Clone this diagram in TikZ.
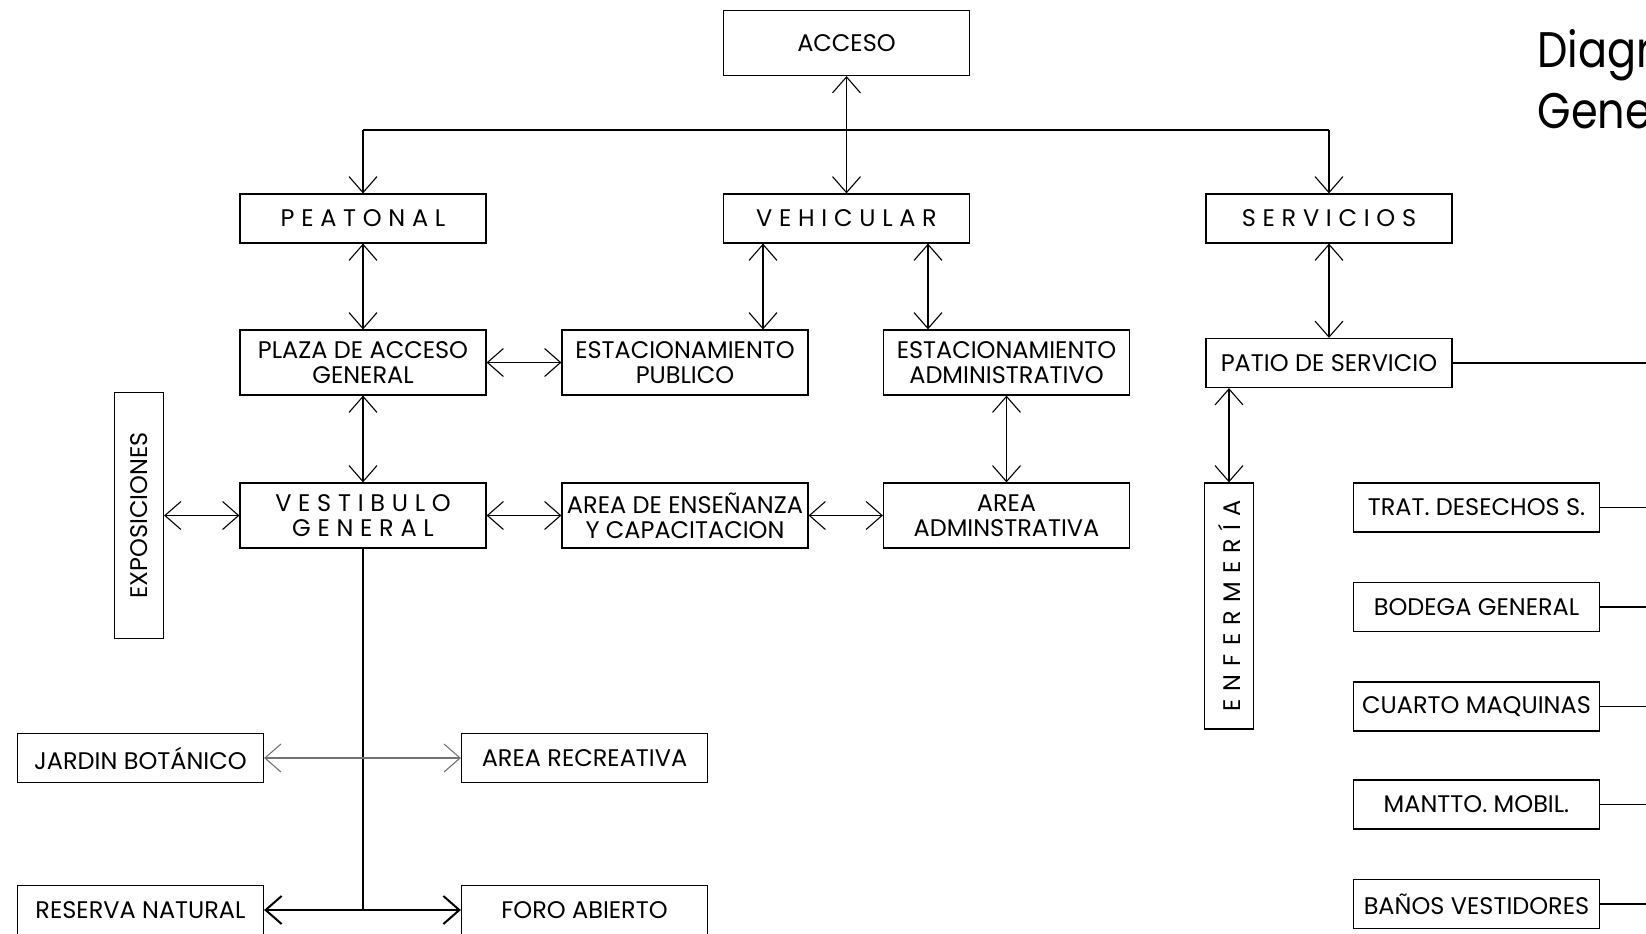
\documentclass[tikz,border=0pt]{standalone}
\usepackage{fontspec}
\setmainfont{Poppins}
\newfontfamily\trackfont[LetterSpace=28]{Poppins}
\newfontfamily\widetrackfont[LetterSpace=34]{Poppins}
\newfontfamily\titlefont[FakeStretch=0.86]{Poppins}
\usetikzlibrary{arrows.meta}
\begin{document}
\begin{tikzpicture}[x=0.5pt,y=-0.5pt,
  >={Straight Barb[length=8pt,width=14pt]},
  line width=0.55pt,
  box/.style={draw, line width=0.6pt, inner sep=0pt, align=center,
    font=\fontsize{12}{12.5}\selectfont, minimum width=123pt},
  tallbox/.style={box, minimum height=32.5pt},
  slimbox/.style={box, minimum height=24.5pt},
  vbox/.style={box, rotate=90, minimum width=123pt, minimum height=24.5pt},
  spaced/.style={font=\trackfont\fontsize{12}{12.5}\selectfont},
  widespaced/.style={font=\widetrackfont\fontsize{12}{12.5}\selectfont},
  titletext/.style={anchor=base west, inner sep=0pt, font=\titlefont\fontsize{25}{25}\selectfont}
]
\clip (0,0) rectangle (1646,933);
\useasboundingbox (0,0) rectangle (1646,933);

% title block
\node[titletext] (title1) at (1537,67) {Diagr};
\node[titletext] (title2) at (1537,128) {Gene};

% top level
\node[tallbox] (acceso) at (846.5,43) {ACCESO};
\node[slimbox, spaced] (peatonal) at (363,218.5) {PEATONAL};
\node[slimbox, spaced] (vehicular) at (846.5,218.5) {VEHICULAR};
\node[slimbox, spaced] (servicios) at (1329,218.5) {SERVICIOS};

% second level
\node[tallbox] (plaza) at (363,362.5) {PLAZA DE ACCESO\\GENERAL};
\node[tallbox] (estpub) at (685,362.5) {ESTACIONAMIENTO\\PUBLICO};
\node[tallbox] (estadm) at (1006.5,362.5) {ESTACIONAMIENTO\\ADMINISTRATIVO};
\node[slimbox] (patio) at (1329,363) {PATIO DE SERVICIO};

% third level
\node[vbox] (expos) at (139,515.5) {EXPOSICIONES};
\node[tallbox, spaced] (vest) at (363,515.5) {VESTIBULO\\GENERAL};
\node[tallbox] (areaens) at (685,515.5) {AREA DE ENSEÑANZA\\Y CAPACITACION};
\node[tallbox] (areaadm) at (1006.5,515.5) {AREA\\ADMINSTRATIVA};
\node[vbox, widespaced] (enfer) at (1229,606) {ENFERMERÍA};

% service rooms
\node[slimbox] (trat) at (1476.5,507.5) {TRAT. DESECHOS S.};
\node[slimbox] (bodega) at (1476.5,607) {BODEGA GENERAL};
\node[slimbox] (cuarto) at (1476.5,706.5) {CUARTO MAQUINAS};
\node[slimbox] (mantto) at (1476.5,804.5) {MANTTO. MOBIL.};
\node[slimbox] (banos) at (1476.5,904) {BAÑOS VESTIDORES};

% outdoor areas
\node[slimbox] (jardin) at (140.5,758) {JARDIN BOTÁNICO};
\node[slimbox] (arearec) at (584.5,758) {AREA RECREATIVA};
\node[slimbox] (reserva) at (140.5,910) {RESERVA NATURAL};
\node[slimbox] (foro) at (584.5,910) {FORO ABIERTO};

% helper coordinates
\coordinate (hbar) at (0,130);
\coordinate (vpub) at (763,0);
\coordinate (vadm) at (928,0);
\coordinate (redge) at (1646,0);

% access distribution
\draw[<->] (acceso) -- (vehicular);
\draw (peatonal.north |- hbar) -- (servicios.north |- hbar);
\draw[->] (peatonal.north |- hbar) -- (peatonal.north);
\draw[->] (servicios.north |- hbar) -- (servicios.north);

% vertical links
\draw[<->] (peatonal) -- (plaza);
\draw[<->] (vehicular.south -| vpub) -- (estpub.north -| vpub);
\draw[<->] (vehicular.south -| vadm) -- (estadm.north -| vadm);
\draw[<->] (servicios) -- (patio);
\draw[<->] (plaza) -- (vest);
\draw[<->] (estadm) -- (areaadm);
\draw[<->] (patio.south -| enfer) -- (enfer);

% horizontal links
\draw[<->] (plaza) -- (estpub);
\draw[<->] (expos) -- (vest);
\draw[<->] (vest) -- (areaens);
\draw[<->] (areaens) -- (areaadm);

% outdoor branch
\draw (vest.south) -- (vest.south |- reserva);
\draw[<->, black!55] (jardin) -- (arearec);
\draw[<->, line width=1pt] (reserva) -- (foro);

% service feeders
\draw (patio.east) -- (patio.east -| redge);
\foreach \n in {trat,bodega,cuarto,mantto,banos}
  \draw (\n.east) -- (\n.east -| redge);
\end{tikzpicture}
\end{document}
